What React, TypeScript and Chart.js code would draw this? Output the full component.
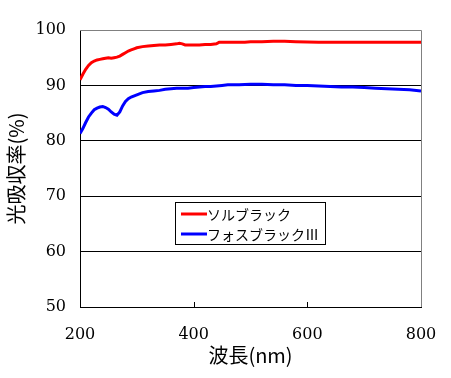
import React, { useEffect, useRef } from "react";
import { Chart, registerables } from "chart.js";

Chart.register(...registerables);

const seriesNames = ["ソルブラック", "フォスブラックⅢ"];
const seriesColors = ["#ff0000", "#0000ff"];

const redX = [200, 205, 210, 215, 220, 225, 230, 235, 240, 245, 250, 255, 260, 265, 270, 275, 280, 285, 290, 295, 300, 310, 320, 330, 340, 350, 360, 370, 375, 380, 385, 390, 400, 410, 420, 430, 440, 445, 450, 470, 490, 500, 520, 540, 560, 580, 600, 620, 640, 660, 680, 700, 720, 740, 760, 780, 800];
const redY = [91.0, 92.0, 92.9, 93.6, 94.1, 94.4, 94.6, 94.7, 94.8, 94.9, 95.0, 94.9, 95.0, 95.1, 95.3, 95.6, 95.9, 96.2, 96.4, 96.6, 96.8, 97.0, 97.1, 97.2, 97.3, 97.3, 97.4, 97.5, 97.6, 97.5, 97.3, 97.3, 97.3, 97.3, 97.4, 97.4, 97.5, 97.8, 97.8, 97.8, 97.8, 97.9, 97.9, 97.95, 97.95, 97.9, 97.85, 97.8, 97.8, 97.8, 97.8, 97.8, 97.8, 97.8, 97.8, 97.8, 97.8];

const blueX = [200, 205, 210, 215, 220, 225, 230, 235, 240, 245, 250, 255, 260, 265, 270, 275, 280, 285, 290, 300, 310, 320, 330, 340, 350, 360, 370, 380, 390, 400, 410, 420, 430, 440, 450, 460, 480, 500, 520, 540, 560, 580, 600, 620, 640, 660, 680, 700, 720, 740, 760, 780, 800];
const blueY = [81.3, 82.2, 83.3, 84.3, 85.0, 85.6, 85.9, 86.1, 86.2, 86.0, 85.7, 85.2, 84.8, 84.6, 85.2, 86.3, 87.1, 87.6, 87.9, 88.3, 88.7, 88.9, 89.0, 89.1, 89.3, 89.4, 89.5, 89.5, 89.5, 89.6, 89.7, 89.8, 89.8, 89.9, 90.0, 90.1, 90.1, 90.2, 90.2, 90.1, 90.1, 90.0, 90.0, 89.9, 89.8, 89.7, 89.7, 89.6, 89.5, 89.4, 89.3, 89.2, 89.0];

const xTitle = "波長(nm)";
const yTitle = "光吸収率(%)";
const xMin = 200, xMax = 800, xStep = 200;
const yMin = 50, yMax = 100, yStep = 10;

const serif = "DejaVu Serif, serif";
const jp = "Noto Sans CJK JP, sans-serif";

const framePlugin = {
  id: "frameAndLegend",
  afterDraw(chart: any) {
    const { ctx, chartArea } = chart;
    const { left, right, top, bottom } = chartArea;
    ctx.save();
    ctx.strokeStyle = "#808080";
    ctx.lineWidth = 1;
    ctx.beginPath();
    ctx.moveTo(left, top + 0.5);
    ctx.lineTo(Math.round(right) + 0.5, top + 0.5);
    ctx.lineTo(Math.round(right) + 0.5, bottom);
    ctx.stroke();
    const xs = chart.scales.x;
    ctx.strokeStyle = "#000";
    ctx.beginPath();
    for (let v = xMin + xStep; v < xMax; v += xStep) {
      const px = Math.round(xs.getPixelForValue(v)) + 0.5;
      ctx.moveTo(px, bottom);
      ctx.lineTo(px, bottom - 5);
    }
    ctx.stroke();
    const bx = 175.5, by = 202.5, bw = 150, bh = 42;
    ctx.fillStyle = "#fff";
    ctx.fillRect(bx, by, bw, bh);
    ctx.strokeStyle = "#000";
    ctx.lineWidth = 1;
    ctx.strokeRect(bx, by, bw, bh);
    ctx.font = `14px ${jp}`;
    ctx.textBaseline = "middle";
    ctx.textAlign = "left";
    chart.data.datasets.forEach((ds: any, i: number) => {
      const ly = 214 + i * 20;
      ctx.strokeStyle = ds.borderColor;
      ctx.lineWidth = 3;
      ctx.beginPath();
      ctx.moveTo(181, ly);
      ctx.lineTo(207, ly);
      ctx.stroke();
      ctx.fillStyle = "#000";
      ctx.fillText(ds.label, 207, ly + 1);
    });
    ctx.restore();
  },
};

export default function App() {
  const ref = useRef<HTMLCanvasElement>(null);
  useEffect(() => {
    if (!ref.current) return;
    const chart = new Chart(ref.current, {
      type: "line",
      data: {
        datasets: [
          {
            label: seriesNames[0],
            data: redX.map((x, i) => ({ x, y: redY[i] })),
            borderColor: seriesColors[0],
            backgroundColor: seriesColors[0],
            borderWidth: 3,
            pointRadius: 0,
            tension: 0,
          },
          {
            label: seriesNames[1],
            data: blueX.map((x, i) => ({ x, y: blueY[i] })),
            borderColor: seriesColors[1],
            backgroundColor: seriesColors[1],
            borderWidth: 3,
            pointRadius: 0,
            tension: 0,
          },
        ],
      },
      options: {
        responsive: false,
        animation: false,
        devicePixelRatio: 1,
        layout: { padding: { top: 30, right: 30, left: 0, bottom: 0 } },
        plugins: {
          legend: { display: false },
          tooltip: { enabled: false },
        },
        scales: {
          x: {
            type: "linear",
            min: xMin,
            max: xMax,
            afterFit: (s: any) => {
              s.height = 71;
              s.paddingLeft = 0;
              s.paddingRight = 0;
            },
            ticks: {
              stepSize: xStep,
              padding: 18,
              color: "#000",
              font: { family: serif, size: 16 },
              maxRotation: 0,
            },
            grid: { display: true, drawOnChartArea: false, drawTicks: false },
            border: { display: true, color: "#000", width: 1 },
            title: {
              display: true,
              text: xTitle,
              color: "#000",
              font: { family: jp, size: 20 },
              padding: { top: 0, bottom: 11 },
            },
          },
          y: {
            type: "linear",
            min: yMin,
            max: yMax,
            afterFit: (s: any) => {
              s.width = 80;
              s.paddingTop = 0;
              s.paddingBottom = 0;
            },
            ticks: {
              stepSize: yStep,
              padding: 14,
              color: "#000",
              font: { family: serif, size: 16 },
            },
            grid: {
              drawTicks: false,
              color: (c: any) =>
                c.tick && c.tick.value > yMin && c.tick.value < yMax ? "#000" : "rgba(0,0,0,0)",
              lineWidth: 1,
            },
            border: { display: true, color: "#000", width: 1 },
            title: {
              display: true,
              text: yTitle,
              color: "#000",
              font: { family: jp, size: 20 },
              padding: { top: 4, bottom: 0 },
            },
          },
        },
      },
      plugins: [framePlugin],
    });
    return () => chart.destroy();
  }, []);
  return (
    <div style={{ position: "absolute", left: 0, top: 0, width: 451, height: 378, background: "#fff" }}>
      <canvas ref={ref} width={451} height={378} />
    </div>
  );
}
